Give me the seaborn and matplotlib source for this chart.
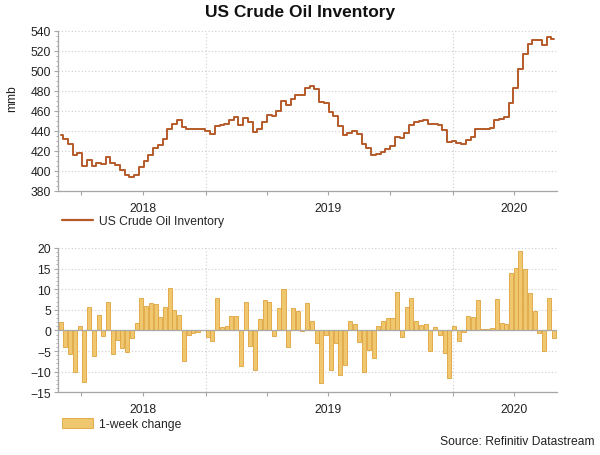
import pandas as pd
import matplotlib
matplotlib.use('Agg')
import matplotlib.pyplot as plt
from matplotlib.lines import Line2D
from matplotlib.patches import Patch
import seaborn as sns

# weekly data (mmb)
weeks = pd.date_range('2018-06-01', periods=105, freq='7D')

inventory = [
    436.0, 432.0, 426.2, 416.2, 417.3, 404.8, 410.5, 404.4, 408.1, 406.7,
    413.6, 407.9, 405.5, 401.2, 395.9, 394.0, 395.8, 403.7, 409.6, 416.2,
    422.6, 425.8, 431.6, 441.9, 446.8, 450.5, 443.2, 442.0, 441.5, 441.2,
    441.2, 439.6, 437.0, 444.9, 445.7, 446.7, 450.3, 453.9, 445.2, 452.2,
    448.4, 438.7, 441.5, 448.8, 455.8, 454.4, 459.8, 469.8, 465.8, 471.2,
    476.0, 475.8, 482.5, 484.7, 481.6, 468.8, 467.7, 458.2, 455.1, 444.3,
    435.8, 438.1, 439.6, 436.9, 426.9, 422.2, 415.4, 416.4, 418.7, 421.8,
    424.7, 434.0, 432.4, 438.1, 446.0, 448.2, 449.6, 451.1, 446.2, 447.0,
    445.9, 440.4, 428.9, 430.0, 427.4, 427.0, 430.6, 433.9, 441.3, 441.6,
    441.9, 442.5, 450.2, 452.1, 453.7, 467.6, 482.8, 502.1, 517.1, 526.2,
    530.8, 530.2, 525.3, 533.2, 531.3,
]

week_change = [
    2.0, -4.0, -5.8, -10.0, 1.1, -12.5, 5.7, -6.1, 3.7, -1.4,
    6.9, -5.7, -2.4, -4.3, -5.3, -1.9, 1.8, 7.9, 5.9, 6.6,
    6.4, 3.2, 5.8, 10.3, 4.9, 3.7, -7.3, -1.2, -0.5, -0.3,
    0.0, -1.6, -2.6, 7.9, 0.8, 1.0, 3.6, 3.6, -8.7, 7.0,
    -3.8, -9.7, 2.8, 7.3, 7.0, -1.4, 5.4, 10.0, -4.0, 5.4,
    4.8, -0.2, 6.7, 2.2, -3.1, -12.8, -1.1, -9.5, -3.1, -10.8,
    -8.5, 2.3, 1.5, -2.7, -10.0, -4.7, -6.8, 1.0, 2.3, 3.1,
    2.9, 9.3, -1.6, 5.7, 7.9, 2.2, 1.4, 1.5, -4.9, 0.8,
    -1.1, -5.5, -11.5, 1.1, -2.6, -0.4, 3.6, 3.3, 7.4, 0.3,
    0.3, 0.6, 7.7, 1.9, 1.6, 13.9, 15.2, 19.3, 15.0, 9.1,
    4.6, -0.6, -4.9, 7.9, -1.9,
]

quarter_ticks = pd.to_datetime(['2018-07-01', '2018-10-01', '2019-01-01',
                                '2019-04-01', '2019-07-01', '2019-10-01',
                                '2020-01-01', '2020-04-01'])
quarter_labels = ['', '2018', '', '', '2019', '', '', '2020']
year_starts = pd.to_datetime(['2019-01-01', '2020-01-01'])

LINE_COLOR = '#B65A2A'
BAR_COLOR = '#EEC76E'
BAR_EDGE = '#E0A23C'
AXIS_COLOR = '#A6A6A6'
GRID_COLOR = '#CDCDCD'

sns.set_theme(style='white')
plt.rcParams['font.family'] = ['Liberation Sans', 'DejaVu Sans']

df = pd.DataFrame({'week': weeks, 'inventory': inventory,
                   'change': week_change})

fig = plt.figure(figsize=(6, 4.56), dpi=100)
ax1 = fig.add_axes([0.0967, 0.5796, 0.8317, 0.3509])
ax2 = fig.add_axes([0.0967, 0.1375, 0.8317, 0.3165])

x_lo = weeks[0] - pd.Timedelta(days=4)
x_hi = weeks[-1] + pd.Timedelta(days=5)


def style_axis(ax):
    for side in ['top', 'right']:
        ax.spines[side].set_visible(False)
    for side in ['left', 'bottom']:
        ax.spines[side].set_color(AXIS_COLOR)
        ax.spines[side].set_linewidth(0.9)
    ax.set_xlim(x_lo, x_hi)
    ax.set_xticks(quarter_ticks)
    ax.set_xticklabels(quarter_labels)
    ax.tick_params(axis='both', which='major', length=3, width=0.8,
                   color=AXIS_COLOR, labelsize=8.7, labelcolor='#222222',
                   direction='out', bottom=True, left=True, pad=2)
    ax.tick_params(axis='y', which='minor', length=1.5, width=0.6,
                   color=AXIS_COLOR, left=True)
    ax.tick_params(axis='x', pad=5)
    ax.yaxis.grid(True, color=GRID_COLOR, linestyle=(0, (1, 2)),
                  linewidth=0.8)
    for d in year_starts:
        ax.axvline(d, color=GRID_COLOR, linestyle=(0, (1, 2)),
                   linewidth=0.8, zorder=0)
    ax.set_xlabel('')


# top: inventory level
sns.lineplot(data=df, x='week', y='inventory', ax=ax1, color=LINE_COLOR,
             linewidth=1.4, drawstyle='steps-mid')
style_axis(ax1)
ax1.set_ylim(380, 540)
ax1.set_yticks(range(380, 541, 20))
ax1.set_yticks(range(380, 541, 5), minor=True)
ax1.set_ylabel('mmb', fontsize=8.7, color='#222222')
ax1.yaxis.set_label_coords(-0.08, 0.58)

# bottom: weekly change
sns.barplot(data=df, x='week', y='change', ax=ax2, native_scale=True,
            color=BAR_COLOR, edgecolor=BAR_EDGE, linewidth=0.6,
            width=0.85, errorbar=None, saturation=1)
style_axis(ax2)
ax2.set_ylim(-15, 20)
ax2.set_yticks(range(-15, 21, 5))
ax2.set_yticks(range(-15, 21, 1), minor=True)
ax2.axhline(0, color='#A8A8A8', linewidth=0.9, zorder=3)
ax2.set_ylabel('')

fig.text(0.5, 0.972, 'US Crude Oil Inventory', ha='center', va='center',
         fontsize=12.5, fontweight='bold', color='#111111')

fig.legend(handles=[Line2D([], [], color=LINE_COLOR, linewidth=1.6)],
           labels=['US Crude Oil Inventory'], loc='center left',
           bbox_to_anchor=(0.095, 0.513), frameon=False, fontsize=8.7,
           handlelength=2.6, handletextpad=0.5, borderaxespad=0)
fig.legend(handles=[Patch(facecolor=BAR_COLOR, edgecolor=BAR_EDGE,
                          linewidth=0.6)],
           labels=['1-week change'], loc='center left',
           bbox_to_anchor=(0.095, 0.068), frameon=False, fontsize=8.7,
           handlelength=2.6, handleheight=0.9, handletextpad=0.5,
           borderaxespad=0)

fig.text(0.99, 0.03, 'Source: Refinitiv Datastream', ha='right',
         va='center', fontsize=8.7, color='#222222')

fig.savefig('out.png', dpi=100)
